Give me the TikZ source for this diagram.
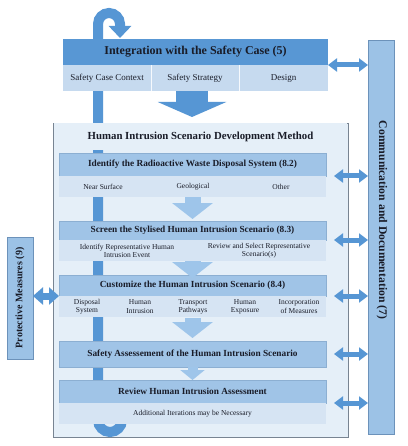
\documentclass[tikz,border=0pt]{standalone}
\usepackage{fontspec}
\setmainfont{Liberation Serif}
\usetikzlibrary{arrows.meta}
\definecolor{tophdr}{RGB}{88,151,212}
\definecolor{topsub}{RGB}{198,218,239}
\definecolor{ihdr}{RGB}{160,196,231}
\definecolor{isub}{RGB}{214,228,243}
\definecolor{bigfill}{RGB}{229,239,248}
\definecolor{bigline}{RGB}{120,132,146}
\definecolor{barfill}{RGB}{156,194,230}
\definecolor{barline}{RGB}{108,146,186}
\definecolor{arrblue}{RGB}{86,150,212}
\definecolor{arrlight}{RGB}{158,197,234}
\definecolor{hdrline}{RGB}{140,175,210}
\definecolor{txt}{RGB}{25,28,40}
\begin{document}
\begin{tikzpicture}[x=1pt,y=-1pt,
  every node/.style={inner sep=0pt,outer sep=0pt,text=txt},
  cell/.style={anchor=north west,minimum width=#1},
  tophead/.style={cell=265pt,fill=tophdr,minimum height=26pt,font=\fontsize{12}{14}\selectfont\bfseries},
  topcell/.style={cell=#1,fill=topsub,minimum height=26pt,font=\fontsize{9}{11}\selectfont},
  innerhead/.style={cell=267pt,fill=ihdr,draw=hdrline,line width=0.4pt,font=\fontsize{9.3}{11}\selectfont\bfseries},
  innersub/.style={cell=267pt,fill=isub,minimum height=21pt,font=\fontsize{7.5}{9}\selectfont},
  subtext/.style={align=center,font=\fontsize{7.5}{8.2}\selectfont},
  sidebar/.style={anchor=north west,fill=barfill,draw=barline,line width=0.5pt,minimum width=26pt},
  loopbar/.style={draw=arrblue,line width=10pt},
  dblarrow/.style={draw=arrblue,line width=5pt,{Triangle[width=13pt,length=9pt]}-{Triangle[width=13pt,length=9pt]}},
  downarrow/.style={draw=arrlight,line width=16pt,-{Triangle[width=40pt,length=16pt]}}
]
\useasboundingbox (0,0) rectangle (407,446);
\fill[white] (0,0) rectangle (407,446);

% method frame
\node[anchor=north west,fill=bigfill,draw=bigline,line width=0.6pt,minimum width=295pt,minimum height=314pt] (method) at (53,123) {};

% iteration loop bar
\coordinate (loopstart) at (98,410);
\coordinate (looptip) at (120,38);
\draw[loopbar,-{Triangle[width=22pt,length=12pt]}] (loopstart) -- (98,24) arc[start angle=180,end angle=0,radius=11pt] -- (looptip);
\coordinate (ubottom) at (98,420);
\coordinate (uend) at (122,398);
\draw[loopbar] (98,400) -- (ubottom) arc[start angle=180,end angle=360,radius=12pt] -- (uend);

% method title band (hides the bar)
\node[fill=bigfill,minimum width=293pt,minimum height=26.5pt,anchor=north west,font=\fontsize{10.8}{12}\selectfont\bfseries] (methodtitle) at (54,123.5) {Human Intrusion Scenario Development Method};

% integration with safety case
\node[tophead] (integ) at (63,39) {Integration with the Safety Case (5)};
\node[topcell=88pt] (ctx) at (63,65) {Safety Case Context};
\node[topcell=88pt] (strat) at (151,65) {Safety Strategy};
\node[topcell=89pt] (design) at (239,65) {Design};
\draw[white!85!topsub,line width=0.6pt] (ctx.north east) -- (ctx.south east) (strat.north east) -- (strat.south east);

% big down arrow
\draw[draw=arrblue,line width=32pt,-{Triangle[width=68pt,length=15pt]}] ([xshift=-3pt]strat.south) -- ([xshift=-3pt,yshift=6pt]method.north -| strat.south);

% inner steps
\node[innerhead,minimum height=23pt] (ident) at (59,153) {Identify the Radioactive Waste Disposal System (8.2)};
\node[innersub] (identsub) at (59,176) {};
\node[subtext] (nearsurf) at (103,186.5) {Near Surface};
\node[subtext] (geol) at (193,186.5) {Geological};
\node[subtext] (other) at (281,186.5) {Other};

\node[innerhead,minimum height=19pt] (screen) at (59,221) {Screen the Stylised Human Intrusion Scenario (8.3)};
\node[innersub] (screensub) at (59,240) {};
\node[subtext] (idrep) at (127,250.5) {Identify Representative Human\\Intrusion Event};
\node[subtext] (revsel) at (259,250.5) {Review and Select Representative\\Scenario(s)};

\node[innerhead,minimum height=21pt] (cust) at (59,275) {Customize the Human Intrusion Scenario (8.4)};
\node[innersub] (custsub) at (59,296) {};
\node[subtext] (dispsys) at (87,306.5) {Disposal\\System};
\node[subtext] (humint) at (140,306.5) {Human\\Intrusion};
\node[subtext] (transp) at (193,306.5) {Transport\\Pathways};
\node[subtext] (humexp) at (245,306.5) {Human\\Exposure};
\node[subtext] (incorp) at (299,306.5) {Incorporation\\of Measures};

\node[innerhead,minimum height=26pt] (safety) at (59,341) {Safety Assessement of the Human Intrusion Scenario};

\node[innerhead,minimum height=23pt] (review) at (59,380) {Review Human Intrusion Assessment};
\node[innersub] (reviewsub) at (59,403) {Additional Iterations may be Necessary};

% small down arrows
\draw[downarrow] (identsub.south) -- ([yshift=2pt]screen.north);
\draw[downarrow] (screensub.south) -- ([yshift=-3pt]cust.north);
\draw[downarrow] ([yshift=-1pt]custsub.south) -- ([yshift=3pt]safety.north);
\draw[draw=arrlight,line width=10pt,-{Triangle[width=24pt,length=10pt]}] (safety.south) -- (review.north);

% communication bar
\node[sidebar,minimum height=394pt] (comm) at (368,40) {};
\node[rotate=-90,font=\fontsize{11.7}{13}\selectfont\bfseries] (commtext) at (382,220) {Communication and Documentation (7)};

% protective measures
\node[sidebar,minimum height=122pt] (prot) at (7,237) {};
\node[rotate=90,font=\fontsize{10}{12}\selectfont\bfseries] (prottext) at (prot.center) {Protective Measures (9)};

% double arrows
\draw[dblarrow] (integ.south east) -- (comm.west |- integ.south east);
\draw[dblarrow] ([xshift=8pt]ident.south east) -- (comm.west |- ident.south east);
\draw[dblarrow] ([xshift=8pt]screen.south east) -- (comm.west |- screen.south east);
\draw[dblarrow] ([xshift=8pt]cust.south east) -- (comm.west |- cust.south east);
\draw[dblarrow] ([xshift=8pt]safety.east) -- (comm.west |- safety.east);
\draw[dblarrow] ([xshift=8pt]review.south east) -- (comm.west |- review.south east);
\draw[draw=arrblue,line width=7pt,{Triangle[width=17pt,length=10pt]}-{Triangle[width=17pt,length=10pt]}] (prot.east |- cust.south west) -- (cust.south west);
\end{tikzpicture}
\end{document}
